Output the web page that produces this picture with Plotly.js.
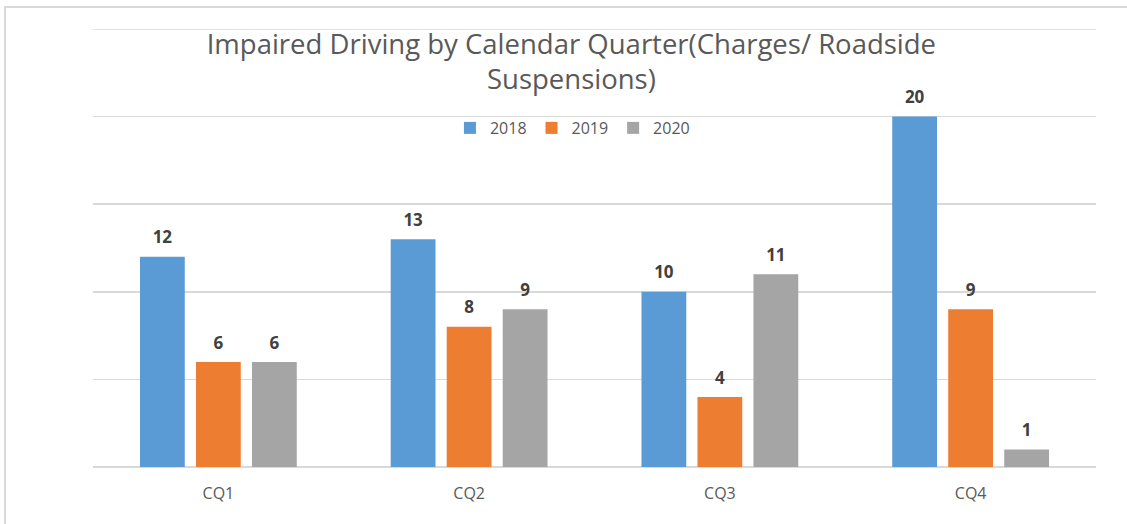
<!DOCTYPE html>
<html>
<head>
<meta charset="utf-8">
<script src="https://cdn.plot.ly/plotly-3.0.1.min.js"></script>
<style>
html,body{margin:0;padding:0;background:#fff;}
#chart{width:1127px;height:524px;}
#frame{position:absolute;left:4px;top:6px;width:1127px;height:524px;border-top:2px solid #d9d9d9;border-left:2px solid #d9d9d9;pointer-events:none;box-sizing:border-box;}
</style>
</head>
<body>
<div id="chart"></div>
<div id="frame"></div>
<script>
const categories = ["CQ1", "CQ2", "CQ3", "CQ4"];
const seriesNames = ["2018", "2019", "2020"];
const values2018 = [12, 13, 10, 20];
const values2019 = [6, 8, 4, 9];
const values2020 = [6, 9, 11, 1];
const colors = ["#5b9bd5", "#ed7d31", "#a5a5a5"];

const allValues = [values2018, values2019, values2020];
const bars = allValues.map((vals, i) => ({
  type: "bar",
  name: seriesNames[i],
  x: categories,
  y: vals,
  offsetgroup: seriesNames[i],
  marker: {color: colors[i]},
  hoverinfo: "x+y+name"
}));
const labels = allValues.map((vals, i) => ({
  type: "scatter",
  mode: "markers+text",
  x: categories,
  y: vals,
  offsetgroup: seriesNames[i],
  text: vals.map(String),
  textposition: "top center",
  cliponaxis: false,
  marker: {size: 13, opacity: 0, color: colors[i]},
  textfont: {family: "Open Sans, sans-serif", size: 17, color: "#404040", weight: "bold"},
  showlegend: false,
  hoverinfo: "skip"
}));

const layout = {
  width: 1127,
  height: 524,
  margin: {l: 93, r: 31, t: 29, b: 57},
  paper_bgcolor: "rgba(0,0,0,0)",
  plot_bgcolor: "rgba(0,0,0,0)",
  title: {
    text: "Impaired Driving by Calendar Quarter(Charges/ Roadside<br>Suspensions)",
    font: {family: "Open Sans, sans-serif", size: 27.5, color: "#595959"},
    x: 0.507, xanchor: "center",
    y: 1 - 53.5/524, yanchor: "middle", yref: "container"
  },
  barmode: "group",
  scattermode: "group",
  bargap: 0.33,
  scattergap: 0.33,
  bargroupgap: 0.2,
  showlegend: true,
  legend: {
    orientation: "h",
    x: 0.478, xanchor: "center",
    y: 0.774, yanchor: "middle",
    bgcolor: "rgba(0,0,0,0)",
    font: {family: "Open Sans, sans-serif", size: 16, color: "#595959"},
    itemwidth: 30,
    traceorder: "normal"
  },
  xaxis: {
    tickfont: {family: "Open Sans, sans-serif", size: 16, color: "#595959"},
    showline: false,
    ticks: "",
    showgrid: false,
    ticklabelstandoff: 15
  },
  yaxis: {
    range: [0, 25],
    dtick: 5,
    showticklabels: false,
    showgrid: true,
    gridcolor: "#d9d9d9",
    gridwidth: 1.5,
    zeroline: true,
    zerolinecolor: "#d9d9d9",
    zerolinewidth: 1.5,
    ticks: "",
    showline: false
  },
  shapes: [{
    type: "line", xref: "paper", yref: "y",
    x0: 0, x1: 1, y0: 25, y1: 25,
    line: {color: "#d9d9d9", width: 1.5}
  }]
};

Plotly.newPlot("chart", bars.concat(labels), layout, {displayModeBar: false, staticPlot: true});
</script>
</body>
</html>
